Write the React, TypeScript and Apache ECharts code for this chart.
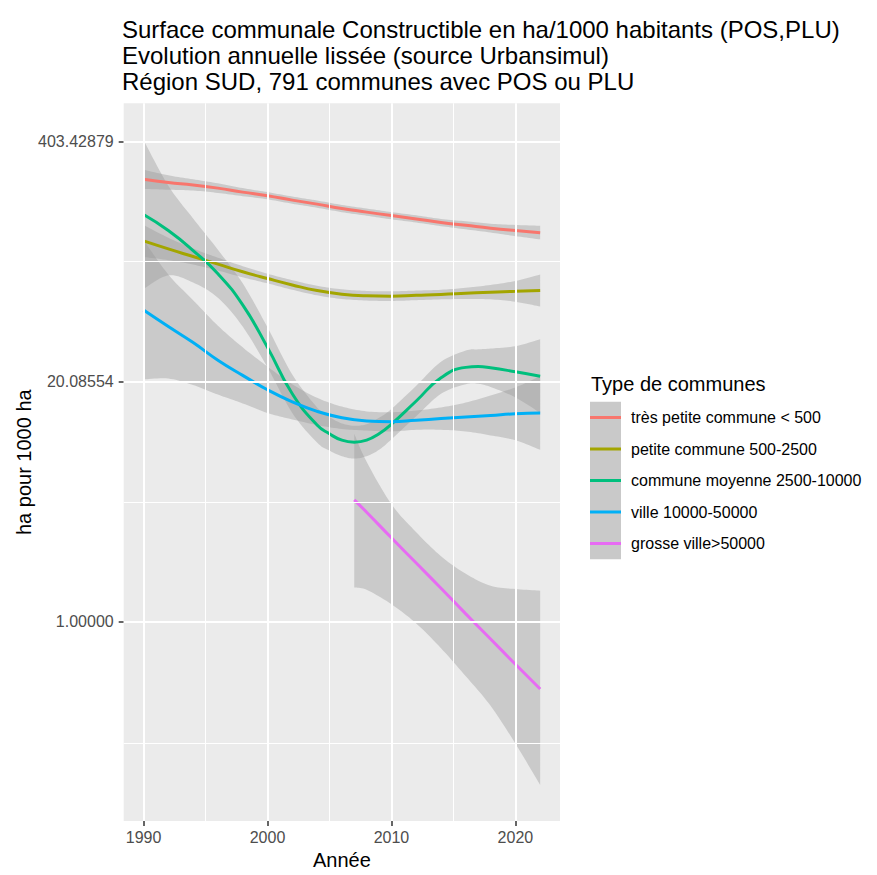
import React, { useEffect, useRef } from "react";
import * as echarts from "echarts";

// ---- Data (values are natural logs of "ha pour 1000 ha") ----
const years = [1990, 1992, 1994, 1996, 1998, 2000, 2002, 2004, 2006, 2008, 2010, 2012, 2014, 2016, 2018, 2020, 2022];

const tresPetiteMid = [5.53, 5.49, 5.46, 5.42, 5.37, 5.325, 5.27, 5.22, 5.165, 5.12, 5.077, 5.035, 4.99, 4.955, 4.92, 4.89, 4.863];
const tresPetiteHigh = [5.65, 5.58, 5.53, 5.48, 5.42, 5.37, 5.315, 5.265, 5.21, 5.165, 5.12, 5.08, 5.035, 5.005, 4.975, 4.96, 4.95];
const tresPetiteLow = [5.41, 5.4, 5.39, 5.36, 5.32, 5.28, 5.225, 5.175, 5.12, 5.075, 5.03, 4.99, 4.945, 4.905, 4.865, 4.82, 4.78];

const petiteMid = [4.76, 4.66, 4.565, 4.47, 4.375, 4.29, 4.21, 4.14, 4.095, 4.075, 4.07, 4.08, 4.09, 4.105, 4.12, 4.13, 4.142];
const petiteHigh = [4.96, 4.8, 4.665, 4.55, 4.445, 4.35, 4.27, 4.2, 4.155, 4.135, 4.13, 4.14, 4.15, 4.175, 4.21, 4.26, 4.34];
const petiteLow = [4.56, 4.52, 4.465, 4.39, 4.305, 4.23, 4.15, 4.08, 4.035, 4.015, 4.01, 4.02, 4.03, 4.035, 4.03, 4.0, 3.94];

const moyenneYears = [1990, 1992, 1994, 1996, 1998, 2000, 2002, 2004, 2005, 2006, 2007, 2008, 2009, 2010, 2012, 2014, 2016, 2017, 2018, 2020, 2022];
const moyenneMid = [5.09, 4.89, 4.64, 4.35, 3.96, 3.43, 2.85, 2.46, 2.35, 2.27, 2.245, 2.27, 2.35, 2.47, 2.76, 3.05, 3.18, 3.19, 3.175, 3.125, 3.07];
const moyenneHigh = [6.02, 5.45, 5.04, 4.65, 4.23, 3.68, 3.09, 2.68, 2.56, 2.48, 2.45, 2.47, 2.55, 2.66, 2.95, 3.25, 3.39, 3.405, 3.415, 3.445, 3.53];
const moyenneLow = [4.16, 4.33, 4.24, 4.05, 3.69, 3.18, 2.61, 2.24, 2.14, 2.07, 2.04, 2.07, 2.15, 2.28, 2.57, 2.85, 2.97, 2.975, 2.935, 2.805, 2.61];

const villeMid = [3.896, 3.69, 3.49, 3.27, 3.08, 2.9, 2.75, 2.63, 2.55, 2.51, 2.5, 2.52, 2.54, 2.56, 2.58, 2.6, 2.61];
const villeHigh = [4.77, 4.34, 4.02, 3.7, 3.43, 3.19, 2.97, 2.8, 2.69, 2.63, 2.62, 2.64, 2.68, 2.74, 2.83, 2.93, 3.07];
const villeLow = [3.03, 3.04, 2.96, 2.84, 2.73, 2.61, 2.53, 2.46, 2.41, 2.39, 2.38, 2.4, 2.4, 2.38, 2.33, 2.27, 2.15];

const grosseYears = [2007, 2008, 2010, 2012, 2014, 2016, 2018, 2020, 2022];
const grosseMid = [1.525, 1.37, 1.05, 0.735, 0.42, 0.1, -0.215, -0.53, -0.84];
const grosseHigh = [2.35, 2.0, 1.47, 1.12, 0.82, 0.6, 0.45, 0.41, 0.39];
const grosseLow = [0.43, 0.4, 0.22, -0.02, -0.33, -0.68, -1.05, -1.52, -2.04];

const categoryNames = [
  "très petite commune < 500",
  "petite commune 500-2500",
  "commune moyenne 2500-10000",
  "ville 10000-50000",
  "grosse ville>50000",
];

// tick labels / breaks
const xTickValues = [1990, 2000, 2010, 2020];
const xMinorValues = [1995, 2005, 2015];
const yTickValues = [1.0, 20.085537, 403.428793];
const yMinorValues = [0.22313, 4.481689, 90.017131];

const titleText =
  "Surface communale Constructible en ha/1000 habitants (POS,PLU)\nEvolution annuelle lissée (source Urbansimul)\nRégion SUD, 791 communes avec POS ou PLU";

// ---- styling ----
const FONT = "'Liberation Sans', Arial, Helvetica, sans-serif";
const colors = ["#F8766D", "#A3A500", "#00BF7D", "#00B0F6", "#E76BF3"];

const groups = [
  { x: years, mid: tresPetiteMid, hi: tresPetiteHigh, lo: tresPetiteLow },
  { x: years, mid: petiteMid, hi: petiteHigh, lo: petiteLow },
  { x: moyenneYears, mid: moyenneMid, hi: moyenneHigh, lo: moyenneLow },
  { x: years, mid: villeMid, hi: villeHigh, lo: villeLow },
  { x: grosseYears, mid: grosseMid, hi: grosseHigh, lo: grosseLow },
];

// Catmull-Rom densification of pixel points (for the smooth ribbon outline)
function spline(pts: number[][], steps = 10): number[][] {
  const out: number[][] = [];
  const n = pts.length;
  for (let i = 0; i < n - 1; i++) {
    const p0 = pts[Math.max(0, i - 1)];
    const p1 = pts[i];
    const p2 = pts[i + 1];
    const p3 = pts[Math.min(n - 1, i + 2)];
    for (let s = 0; s < steps; s++) {
      const t = s / steps;
      const t2 = t * t;
      const t3 = t2 * t;
      const f = (a: number, b: number, c: number, d: number) =>
        0.5 * (2 * b + (-a + c) * t + (2 * a - 5 * b + 4 * c - d) * t2 + (-a + 3 * b - 3 * c + d) * t3);
      out.push([f(p0[0], p1[0], p2[0], p3[0]), f(p0[1], p1[1], p2[1], p3[1])]);
    }
  }
  out.push(pts[n - 1]);
  return out;
}

function buildOption() {
  const series: any[] = [];
  const gridLine = (w: number) => ({ color: "#FFFFFF", width: w, type: "solid", opacity: 1 });
  series.push({
    type: "line",
    name: "grille",
    data: [],
    silent: true,
    z: 1,
    markLine: {
      silent: true,
      symbol: ["none", "none"],
      label: { show: false },
      emphasis: { disabled: true },
      data: [
        ...xMinorValues.map((v) => ({ xAxis: v, lineStyle: gridLine(1) })),
        ...yMinorValues.map((v) => ({ yAxis: v, lineStyle: gridLine(1) })),
        ...xTickValues.map((v) => ({ xAxis: v, lineStyle: gridLine(2) })),
        ...yTickValues.map((v) => ({ yAxis: v, lineStyle: gridLine(2) })),
      ],
    },
  });

  groups.forEach((g, i) => {
    series.push({
      type: "custom",
      name: categoryNames[i] + " (intervalle)",
      silent: true,
      z: 2,
      data: g.x.map((yr, k) => [yr, Math.exp(g.lo[k]), Math.exp(g.hi[k])]),
      encode: { x: 0, y: [1, 2] },
      renderItem: (params: any, api: any) => {
        if (params.dataIndex !== 0) return null;
        const up = g.x.map((yr, k) => api.coord([yr, Math.exp(g.hi[k])]));
        const dn = g.x.map((yr, k) => api.coord([yr, Math.exp(g.lo[k])]));
        const pts = spline(up).concat(spline(dn).reverse());
        return {
          type: "polygon",
          silent: true,
          shape: { points: pts },
          style: { fill: "rgba(153,153,153,0.4)", stroke: "none" },
        };
      },
    });
    series.push({
      type: "line",
      name: categoryNames[i],
      data: g.x.map((yr, k) => [yr, Math.exp(g.mid[k])]),
      smooth: 0.5,
      symbol: "none",
      lineStyle: { color: colors[i], width: 3 },
      itemStyle: { color: colors[i] },
      z: 2,
    });
  });

  return {
    animation: false,
    backgroundColor: "#FFFFFF",
    textStyle: { fontFamily: FONT },
    title: [
      {
        text: titleText,
        left: 122,
        top: 16,
        padding: 0,
        textStyle: { fontFamily: FONT, fontSize: 24, fontWeight: "normal", lineHeight: 26, color: "#000000" },
      },
      {
        text: "Type de communes",
        left: 591,
        top: 374,
        padding: 0,
        textStyle: { fontFamily: FONT, fontSize: 20, fontWeight: "normal", color: "#000000" },
      },
    ],
    legend: {
      data: categoryNames,
      orient: "vertical",
      left: 590,
      top: 409.5,
      padding: 0,
      itemWidth: 31,
      itemHeight: 3,
      itemGap: 15.5,
      icon: "rect",
      selectedMode: false,
      z: 10,
      textStyle: { fontFamily: FONT, fontSize: 16, color: "#000000", padding: [0, 0, 0, 5] },
    },
    graphic: [
      {
        type: "rect",
        z: 0,
        silent: true,
        shape: { x: 590, y: 401.7, width: 31, height: 157.5 },
        style: { fill: "#C9C9C9" },
      },
    ],
    grid: {
      left: 123.7,
      top: 103.3,
      right: 317,
      bottom: 46.7,
      show: true,
      backgroundColor: "#EBEBEB",
      borderWidth: 0,
      containLabel: false,
    },
    xAxis: {
      type: "value",
      min: 1988.4,
      max: 2023.6,
      axisLine: { show: false },
      splitLine: { show: false },
      axisTick: { show: true, customValues: xTickValues, length: 5, lineStyle: { color: "#333333", width: 1.5 } },
      axisLabel: {
        customValues: xTickValues,
        fontFamily: FONT,
        fontSize: 16,
        color: "#4D4D4D",
        margin: 8,
        formatter: (v: number) => String(Math.round(v)),
      },
      name: "Année",
      nameLocation: "middle",
      nameGap: 27,
      nameTextStyle: { fontFamily: FONT, fontSize: 20, color: "#000000" },
    },
    yAxis: {
      type: "log",
      logBase: Math.exp(3),
      min: Math.exp(-2.49),
      max: Math.exp(6.48),
      axisLine: { show: false },
      splitLine: { show: false },
      axisTick: { show: true, customValues: yTickValues, length: 5, lineStyle: { color: "#333333", width: 1.5 } },
      axisLabel: {
        customValues: yTickValues,
        fontFamily: FONT,
        fontSize: 16,
        color: "#4D4D4D",
        margin: 10,
        formatter: (v: number) => Number(v).toFixed(5),
      },
      name: "ha pour 1000 ha",
      nameLocation: "middle",
      nameGap: 86,
      nameRotate: 90,
      nameTextStyle: { fontFamily: FONT, fontSize: 20, color: "#000000" },
    },
    series,
  };
}

export default function App() {
  const ref = useRef<HTMLDivElement>(null);
  useEffect(() => {
    if (!ref.current) return;
    const chart = echarts.init(ref.current, undefined, { renderer: "svg" });
    chart.setOption(buildOption() as any);
    return () => {
      chart.dispose();
    };
  }, []);
  return (
    <div
      ref={ref}
      style={{ position: "absolute", left: 0, top: 0, width: 877, height: 875, background: "#FFFFFF" }}
    />
  );
}
